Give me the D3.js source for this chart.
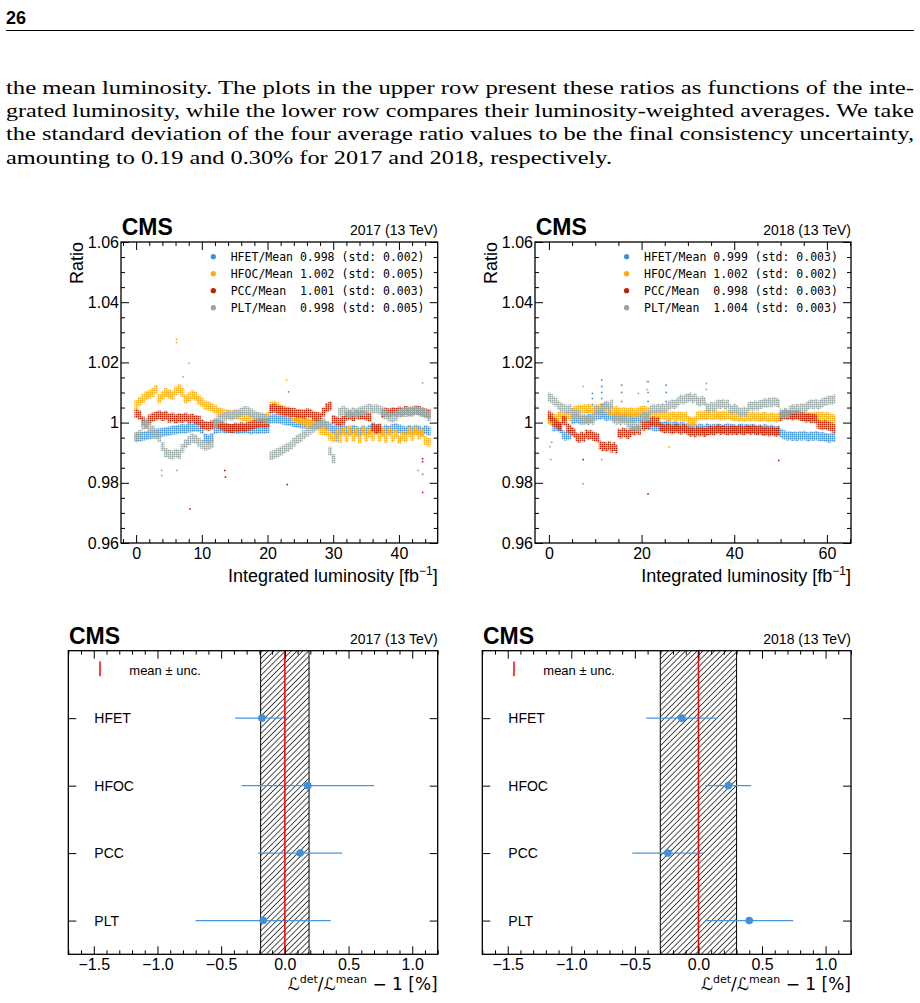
<!DOCTYPE html>
<html>
<head>
<meta charset="utf-8">
<script src="https://cdn.jsdelivr.net/npm/d3@7"></script>
<style>
  body { margin: 0; background: #fff; }
  svg text { font-family: "Liberation Sans", Arial, sans-serif; }
</style>
</head>
<body>
<div id="container"></div>
<script>
/***** data *****/
const pageNumber = "26";
const paragraph = [
  "the mean luminosity. The plots in the upper row present these ratios as functions of the inte-",
  "grated luminosity, while the lower row compares their luminosity-weighted averages. We take",
  "the standard deviation of the four average ratio values to be the final consistency uncertainty,",
  "amounting to 0.19 and 0.30% for 2017 and 2018, respectively."
];

const detectors = ["HFET", "HFOC", "PCC", "PLT"];
const colors = ["#3f90da", "#ffa90e", "#bd1f01", "#94a4a2"];
const lumiStep = 0.5;   // fb^-1 between stored ratio samples

const mean2017 = ["0.998", "1.002", "1.001", "0.998"];
const std2017  = ["0.002", "0.005", "0.003", "0.005"];
const mean2018 = ["0.999", "1.002", "0.998", "1.004"];
const std2018  = ["0.003", "0.002", "0.003", "0.003"];

const hfet2017 = [
  0.9950,0.9952,0.9955,0.9957,0.9960,0.9962,0.9965,0.9966,0.9968,0.9970,
  0.9972,0.9975,0.9976,0.9978,0.9980,0.9979,0.9982,0.9983,0.9985,0.9984,
  0.9978,0.9948,0.9945,0.9950,0.9978,0.9980,0.9982,0.9979,0.9981,0.9980,
  0.9978,0.9977,0.9979,0.9980,0.9978,0.9976,0.9978,0.9977,0.9979,0.9978,
  0.9980,1.0012,1.0013,1.0012,1.0010,1.0008,1.0005,1.0003,1.0000,0.9998,
  0.9996,0.9995,0.9996,0.9995,0.9994,0.9995,0.9993,0.9992,0.9990,0.9985,
  0.9978,0.9975,0.9972,0.9978,0.9974,0.9970,0.9977,0.9973,0.9969,0.9976,
  0.9972,0.9978,0.9982,0.9980,0.9976,0.9972,0.9978,0.9974,0.9980,0.9983,
  0.9979,0.9975,0.9972,0.9977,0.9973,0.9978,0.9974,0.9970,0.9976,0.9972];
const hfoc2017 = [
  1.0060,1.0070,1.0080,1.0090,1.0095,1.0100,1.0110,1.0080,1.0090,1.0100,
  1.0095,1.0090,1.0105,1.0112,1.0100,1.0078,1.0085,1.0092,1.0088,1.0075,
  1.0068,1.0058,1.0055,1.0050,1.0045,1.0035,1.0032,1.0030,1.0028,1.0026,
  1.0025,1.0024,1.0022,1.0020,1.0021,1.0019,1.0018,1.0017,1.0016,1.0015,
  1.0020,1.0055,1.0058,1.0052,1.0045,1.0042,1.0038,1.0035,1.0020,1.0012,
  1.0010,1.0008,1.0000,0.9995,0.9992,0.9990,0.9975,0.9972,0.9970,0.9955,
  0.9950,0.9962,0.9948,0.9970,0.9950,0.9975,0.9952,0.9968,0.9945,0.9972,
  0.9950,0.9965,0.9955,0.9975,0.9952,0.9968,0.9948,0.9970,0.9950,0.9962,
  0.9945,0.9955,0.9950,0.9968,0.9955,0.9972,0.9958,0.9965,0.9940,0.9935];
const pcc2017 = [
  1.0030,1.0025,1.0005,0.9995,1.0012,1.0018,1.0022,1.0025,1.0020,1.0024,
  1.0015,1.0018,1.0012,1.0016,1.0014,1.0018,1.0012,1.0015,1.0010,1.0008,
  0.9995,0.9990,0.9988,0.9992,0.9998,0.9995,0.9990,0.9985,0.9982,0.9980,
  0.9985,0.9983,0.9986,0.9984,0.9988,0.9990,0.9995,0.9998,1.0000,0.9998,
  1.0000,1.0045,1.0048,1.0042,1.0040,1.0036,1.0035,1.0033,1.0034,1.0030,
  1.0030,1.0028,1.0032,1.0030,1.0022,1.0020,1.0018,1.0035,1.0050,1.0055,
  1.0010,1.0005,1.0002,1.0008,1.0022,1.0025,1.0020,1.0028,1.0024,1.0026,
  1.0022,1.0018,0.9985,0.9978,0.9982,1.0030,1.0035,1.0032,1.0036,1.0034,
  1.0038,1.0035,1.0040,1.0036,1.0038,1.0042,1.0040,1.0036,1.0032,1.0030];
const plt2017 = [
  0.9955,0.9960,0.9990,1.0000,0.9985,0.9975,0.9960,0.9950,0.9920,0.9900,
  0.9895,0.9892,0.9898,0.9895,0.9915,0.9930,0.9940,0.9948,0.9945,0.9935,
  0.9928,0.9922,0.9925,0.9930,0.9995,1.0010,1.0015,1.0020,1.0025,1.0022,
  1.0028,1.0030,1.0035,1.0040,1.0038,1.0032,1.0025,1.0020,1.0018,1.0015,
  1.0010,0.9890,0.9895,0.9900,0.9905,0.9912,0.9918,0.9925,0.9935,0.9945,
  0.9950,0.9960,0.9968,0.9975,0.9982,0.9990,0.9995,1.0000,0.9990,0.9905,
  0.9880,0.9950,1.0035,1.0040,1.0035,1.0030,1.0036,1.0032,1.0038,1.0040,
  1.0045,1.0048,1.0044,1.0046,1.0042,1.0038,1.0025,1.0018,1.0015,1.0020,
  1.0030,1.0036,1.0034,1.0038,1.0035,1.0040,1.0036,1.0034,1.0030,1.0020];

const hfet2018 = [
  1.0010,1.0005,0.9985,0.9988,0.9985,0.9980,0.9960,0.9955,0.9958,0.9960,
  1.0010,1.0012,1.0014,1.0010,1.0008,1.0012,1.0010,1.0015,1.0012,1.0018,
  1.0022,1.0025,1.0024,1.0028,1.0022,1.0020,1.0024,1.0021,1.0018,1.0022,
  1.0020,1.0017,1.0015,1.0018,1.0014,1.0016,1.0013,1.0015,1.0018,1.0016,
  1.0015,1.0017,1.0014,1.0012,0.9990,0.9988,0.9985,0.9988,0.9990,0.9987,
  0.9990,0.9992,0.9988,0.9986,0.9990,0.9988,0.9985,0.9988,0.9986,0.9983,
  0.9982,0.9980,0.9984,0.9981,0.9978,0.9982,0.9980,0.9977,0.9983,0.9980,
  0.9978,0.9981,0.9979,0.9982,0.9980,0.9977,0.9980,0.9983,0.9979,0.9981,
  0.9979,0.9976,0.9980,0.9982,0.9978,0.9980,0.9977,0.9979,0.9981,0.9978,
  0.9976,0.9979,0.9977,0.9980,0.9978,0.9975,0.9978,0.9976,0.9973,0.9975,
  0.9965,0.9962,0.9958,0.9955,0.9957,0.9954,0.9956,0.9953,0.9957,0.9955,
  0.9958,0.9955,0.9952,0.9956,0.9954,0.9957,0.9955,0.9952,0.9954,0.9951,
  0.9950,0.9948,0.9952,0.9950];
const hfoc2018 = [
  1.0010,1.0008,1.0015,1.0012,1.0020,1.0022,1.0018,1.0021,1.0024,1.0020,
  1.0035,1.0040,1.0042,1.0045,1.0043,1.0046,1.0044,1.0047,1.0045,1.0042,
  1.0046,1.0044,1.0048,1.0050,1.0052,1.0049,1.0042,1.0040,1.0038,1.0041,
  1.0036,1.0034,1.0037,1.0035,1.0033,1.0036,1.0034,1.0032,1.0035,1.0038,
  1.0040,1.0042,1.0038,1.0036,1.0026,1.0024,1.0027,1.0025,1.0023,1.0026,
  1.0024,1.0022,1.0020,1.0023,1.0021,1.0019,1.0022,1.0020,1.0018,1.0021,
  1.0008,1.0005,1.0003,1.0006,1.0022,1.0025,1.0023,1.0026,1.0024,1.0027,
  1.0025,1.0023,1.0026,1.0024,1.0022,1.0025,1.0023,1.0026,1.0024,1.0021,
  1.0020,1.0022,1.0019,1.0021,1.0018,1.0020,1.0022,1.0019,1.0021,1.0018,
  1.0020,1.0017,1.0019,1.0021,1.0018,1.0016,1.0019,1.0017,1.0015,1.0018,
  1.0024,1.0026,1.0023,1.0025,1.0027,1.0024,1.0026,1.0023,1.0025,1.0022,
  1.0020,1.0022,1.0019,1.0021,1.0018,1.0020,1.0022,1.0019,1.0021,1.0018,
  1.0020,1.0017,1.0015,1.0012];
const pcc2018 = [
  1.0025,1.0018,1.0002,0.9998,0.9990,0.9988,1.0008,1.0005,0.9982,0.9978,
  0.9970,0.9965,0.9952,0.9948,0.9955,0.9950,0.9962,0.9958,0.9960,0.9955,
  0.9952,0.9950,0.9925,0.9920,0.9922,0.9918,0.9924,0.9915,0.9920,0.9912,
  0.9965,0.9962,0.9968,0.9965,0.9960,0.9966,0.9975,0.9972,0.9978,0.9974,
  0.9990,0.9988,0.9992,0.9990,1.0002,1.0005,1.0000,1.0003,0.9985,0.9982,
  0.9978,0.9982,0.9980,0.9976,0.9979,0.9982,0.9978,0.9975,0.9980,0.9977,
  0.9972,0.9968,0.9970,0.9966,0.9972,0.9969,0.9971,0.9967,0.9970,0.9973,
  0.9975,0.9972,0.9976,0.9978,0.9974,0.9977,0.9975,0.9972,0.9976,0.9974,
  0.9976,0.9973,0.9977,0.9975,0.9972,0.9976,0.9978,0.9974,0.9977,0.9975,
  0.9973,0.9976,0.9972,0.9970,0.9973,0.9969,0.9972,0.9970,0.9968,0.9971,
  1.0020,1.0025,1.0028,1.0024,1.0026,1.0022,1.0025,1.0028,1.0023,1.0020,
  1.0018,1.0015,1.0017,1.0013,1.0015,1.0012,0.9995,0.9992,0.9990,0.9993,
  0.9990,0.9988,0.9985,0.9980];
const plt2018 = [
  1.0085,1.0080,1.0072,1.0068,1.0058,1.0052,1.0048,1.0045,1.0042,1.0046,
  1.0032,1.0028,1.0030,1.0026,1.0012,1.0008,1.0010,1.0005,1.0012,1.0008,
  1.0040,1.0042,1.0038,1.0045,1.0055,1.0058,1.0052,1.0062,1.0012,1.0008,
  1.0010,1.0006,1.0012,1.0008,0.9995,0.9990,0.9988,0.9992,0.9986,0.9990,
  1.0018,1.0022,1.0020,1.0025,1.0042,1.0046,1.0044,1.0048,1.0045,1.0050,
  1.0046,1.0052,1.0058,1.0062,1.0060,1.0065,1.0072,1.0078,1.0075,1.0080,
  1.0082,1.0085,1.0078,1.0083,1.0072,1.0068,1.0074,1.0070,1.0052,1.0048,
  1.0055,1.0050,1.0058,1.0062,1.0060,1.0064,1.0058,1.0062,1.0046,1.0042,
  1.0048,1.0044,1.0036,1.0034,1.0038,1.0035,1.0052,1.0056,1.0054,1.0058,
  1.0055,1.0060,1.0062,1.0066,1.0064,1.0068,1.0066,1.0070,1.0068,1.0064,
  1.0032,1.0028,1.0034,1.0030,1.0042,1.0046,1.0044,1.0048,1.0045,1.0050,
  1.0047,1.0052,1.0058,1.0062,1.0060,1.0064,1.0058,1.0062,1.0066,1.0070,
  1.0072,1.0076,1.0074,1.0078];

// isolated points: [detector index, lumi, ratio]
const outliers2017 = [
  [1, 6.15, 1.0277], [1, 6.15, 1.0266], [1, 8.05, 1.0197], [1, 7.15, 1.0152], [1, 22.9, 1.0141],
  [0, 23.2, 1.0102], [0, 43.6, 0.9828],
  [2, 8.2, 0.9713], [2, 13.5, 0.9841], [2, 13.6, 0.9819], [2, 23.0, 0.9794],
  [2, 43.6, 0.9880], [2, 43.6, 0.9870], [2, 43.6, 0.9768],
  [3, 3.9, 0.9841], [3, 3.9, 0.9824], [3, 6.2, 0.9841], [3, 43.6, 1.0132], [3, 42.9, 0.9841]];
const outliers2018 = [
  [0, 9.4, 1.0060], [0, 9.4, 1.0080], [0, 9.4, 1.0097],
  [0, 11.4, 1.0060], [0, 11.4, 1.0080], [0, 11.4, 1.0100], [0, 11.4, 1.0120], [0, 11.4, 1.0141],
  [0, 15.7, 1.0070], [0, 15.7, 1.0100], [0, 15.7, 1.0124],
  [0, 21.4, 1.0070], [0, 21.4, 1.0100], [0, 21.4, 1.0136],
  [0, 25.3, 1.0070], [0, 25.3, 1.0100], [0, 25.3, 1.0124],
  [1, 7.4, 1.0120], [1, 21.2, 1.0136], [1, 21.2, 1.0110], [1, 25.9, 0.9919],
  [2, 7.4, 0.9877], [2, 21.4, 0.9763], [2, 49.6, 0.9874],
  [3, 0.4, 0.9877], [3, 0.2, 0.9920], [3, 0.6, 0.9935], [3, 7.4, 0.9797], [3, 11.4, 0.9877],
  [3, 19.3, 1.0097], [3, 34.0, 1.0130], [3, 34.0, 1.0110]];

// luminosity-weighted averages, L_det/L_mean - 1 [%]
const avg2017 = [-0.18, 0.18, 0.12, -0.17];
const avgErr2017 = [0.21, 0.52, 0.33, 0.53];
const unc2017 = 0.19;
const avg2018 = [-0.13, 0.235, -0.24, 0.40];
const avgErr2018 = [0.28, 0.18, 0.28, 0.345];
const unc2018 = 0.30;

const ratioTicks = [0.96, 0.98, 1.00, 1.02, 1.04, 1.06];
const lumiTicks2017 = [0, 10, 20, 30, 40];
const lumiTicks2018 = [0, 20, 40, 60];
const avgTicks = [-1.5, -1.0, -0.5, 0.0, 0.5, 1.0];

/***** page *****/
const svg = d3.select("#container").append("svg")
  .attr("width", 920).attr("height", 1003)
  .style("background", "#fff");
const defs = svg.append("defs");

colors.forEach((c, i) => {
  const p = defs.append("pattern").attr("id", "dots" + i)
    .attr("patternUnits", "userSpaceOnUse").attr("width", 2).attr("height", 2);
  p.append("rect").attr("width", 1.5).attr("height", 1.5).attr("fill", c);
});
defs.append("pattern").attr("id", "hatch")
  .attr("patternUnits", "userSpaceOnUse").attr("width", 4.1).attr("height", 4.1)
  .attr("patternTransform", "rotate(45)")
  .append("line").attr("x1", 2).attr("x2", 2).attr("y1", 0).attr("y2", 4.1)
  .attr("stroke", "#111").attr("stroke-width", 0.75);

svg.append("text").attr("x", 6).attr("y", 24)
  .attr("font-size", 18).attr("font-weight", "bold").text(pageNumber);
svg.append("line").attr("x1", 6).attr("x2", 914).attr("y1", 30.5).attr("y2", 30.5)
  .attr("stroke", "#000").attr("stroke-width", 1);

const paraBase = [94, 117, 140, 164];
paragraph.forEach((t, i) => {
  svg.append("text")
    .attr("x", 6).attr("y", paraBase[i])
    .attr("textLength", i < 3 ? 908 : 606)
    .attr("lengthAdjust", "spacingAndGlyphs")
    .style("font-family", "'Liberation Serif', serif")
    .attr("font-size", 19.5)
    .text(t);
});

/***** helpers *****/
function axis(g, fn, scale, values, size, tr, fmt, pad) {
  const ax = fn(scale).tickValues(values).tickSizeInner(-size).tickSizeOuter(0)
    .tickPadding(pad || 3).tickFormat(fmt || (() => ""));
  const a = g.append("g").attr("transform", tr).call(ax);
  a.select(".domain").remove();
  a.selectAll("line").attr("stroke", "#000").attr("stroke-width", 1);
  a.attr("font-size", 16).attr("font-family", "'Liberation Sans', Arial, sans-serif");
  a.selectAll("text").attr("fill", "#000");
  return a;
}

function header(g, p, year) {
  g.append("text").attr("x", p.left + 0.7).attr("y", p.top - 7)
    .attr("font-size", 23).attr("font-weight", "bold").text("CMS");
  g.append("text").attr("x", p.right).attr("y", p.top - 7)
    .attr("text-anchor", "end").attr("font-size", 14).text(year + " (13 TeV)");
}

/***** upper row: ratio vs integrated luminosity *****/
function ratioPanel(p) {
  const x = d3.scaleLinear().domain(p.xDomain).range([p.left, p.right]);
  const y = d3.scaleLinear().domain([0.96, 1.06]).range([p.bottom, p.top]);
  const g = svg.append("g");

  defs.append("clipPath").attr("id", "clip" + p.year).append("rect")
    .attr("x", p.left).attr("y", p.top)
    .attr("width", p.right - p.left).attr("height", p.bottom - p.top);
  const plot = g.append("g").attr("clip-path", `url(#clip${p.year})`);

  const w = x(lumiStep) - x(0);
  p.series.forEach((vals, s) => {
    plot.append("g").selectAll("rect").data(vals).join("rect")
      .attr("x", (d, i) => x(i * lumiStep) - w / 2)
      .attr("width", w + 0.5)
      .attr("y", d => y(d) - 4.5)
      .attr("height", 9)
      .attr("fill", `url(#dots${s})`);
  });
  plot.append("g").selectAll("rect").data(p.outliers).join("rect")
    .attr("x", d => x(d[1]) - 0.8).attr("y", d => y(d[2]) - 0.8)
    .attr("width", 1.6).attr("height", 1.6)
    .attr("fill", d => colors[d[0]]);

  g.append("rect").attr("x", p.left).attr("y", p.top)
    .attr("width", p.right - p.left).attr("height", p.bottom - p.top)
    .attr("fill", "none").attr("stroke", "#000").attr("stroke-width", 1.3);

  const xMinor = d3.range(p.minorStep * Math.ceil(p.xDomain[0] / p.minorStep), p.xDomain[1], p.minorStep)
    .filter(v => !p.xTicks.includes(v));
  const yMinor = d3.range(0.965, 1.06, 0.005).filter(v => Math.round(v * 1000) % 20 !== 0);
  const yFmt = d => d === 1 ? "1" : d3.format(".2f")(d);

  axis(g, d3.axisBottom, x, p.xTicks, 8, `translate(0,${p.bottom})`, d3.format("d"), 4.5);
  axis(g, d3.axisBottom, x, xMinor, 4, `translate(0,${p.bottom})`);
  axis(g, d3.axisTop, x, p.xTicks, 8, `translate(0,${p.top})`);
  axis(g, d3.axisTop, x, xMinor, 4, `translate(0,${p.top})`);
  axis(g, d3.axisLeft, y, ratioTicks, 8, `translate(${p.left},0)`, yFmt, 2);
  axis(g, d3.axisLeft, y, yMinor, 4, `translate(${p.left},0)`);
  axis(g, d3.axisRight, y, ratioTicks, 8, `translate(${p.right},0)`);
  axis(g, d3.axisRight, y, yMinor, 4, `translate(${p.right},0)`);

  header(g, p, p.year);

  g.append("text")
    .attr("transform", `translate(${p.left - 38},${p.top}) rotate(-90)`)
    .attr("text-anchor", "end").attr("font-size", 18).text("Ratio");

  const xl = g.append("text").attr("x", p.right).attr("y", p.bottom + 38.5)
    .attr("text-anchor", "end").attr("font-size", 18);
  xl.append("tspan").text("Integrated luminosity [fb");
  xl.append("tspan").attr("font-size", 12).attr("dy", -7).text("\u22121");
  xl.append("tspan").attr("dy", 7).text("]");

  // legend
  const leg = g.append("g");
  detectors.forEach((d, i) => {
    const cy = p.top + 14.7 + 17 * i;
    leg.append("circle").attr("cx", p.right - 224.4).attr("cy", cy).attr("r", 2.6)
      .attr("fill", colors[i]);
    const label = (d + "/Mean").padEnd(10, " ") + p.means[i] + " (std: " + p.stds[i] + ")";
    leg.append("text").attr("x", p.right - 207).attr("y", cy + 4)
      .style("font-family", "'DejaVu Sans Mono', monospace")
      .style("white-space", "pre")
      .attr("font-size", 11.5).text(label);
  });
}

ratioPanel({
  year: 2017, left: 121, right: 437.7, top: 242, bottom: 543,
  xDomain: [-2.3, 45.9], xTicks: lumiTicks2017, minorStep: 2,
  series: [hfet2017, hfoc2017, pcc2017, plt2017], outliers: outliers2017,
  means: mean2017, stds: std2017
});
ratioPanel({
  year: 2018, left: 535, right: 851, top: 242, bottom: 543,
  xDomain: [-3.0, 65.2], xTicks: lumiTicks2018, minorStep: 5,
  series: [hfet2018, hfoc2018, pcc2018, plt2018], outliers: outliers2018,
  means: mean2018, stds: std2018
});

/***** lower row: luminosity-weighted averages *****/
function averagePanel(p) {
  const x = d3.scaleLinear().domain([-1.7, 1.2]).range([p.left, p.right]);
  const y = d3.scaleLinear().domain([0, 4.5]).range([p.top, p.bottom]);
  const g = svg.append("g");

  // uncertainty band
  g.append("rect").attr("x", x(-p.unc)).attr("y", p.top)
    .attr("width", x(p.unc) - x(-p.unc)).attr("height", p.bottom - p.top)
    .attr("fill", "url(#hatch)");
  [-p.unc, p.unc].forEach(v => {
    g.append("line").attr("x1", x(v)).attr("x2", x(v)).attr("y1", p.top).attr("y2", p.bottom)
      .attr("stroke", "#000").attr("stroke-width", 1);
  });

  // error bars
  g.append("g").selectAll("line").data(p.avg).join("line")
    .attr("x1", (d, i) => x(d - p.err[i])).attr("x2", (d, i) => x(d + p.err[i]))
    .attr("y1", (d, i) => y(i + 1)).attr("y2", (d, i) => y(i + 1))
    .attr("stroke", "#4a96dd").attr("stroke-width", 1.3);

  g.append("line").attr("x1", x(0)).attr("x2", x(0)).attr("y1", p.top).attr("y2", p.bottom)
    .attr("stroke", "#ff0000").attr("stroke-width", 1.5);

  g.append("g").selectAll("circle").data(p.avg).join("circle")
    .attr("cx", d => x(d)).attr("cy", (d, i) => y(i + 1)).attr("r", 3.8)
    .attr("fill", colors[0]);

  g.append("rect").attr("x", p.left).attr("y", p.top)
    .attr("width", p.right - p.left).attr("height", p.bottom - p.top)
    .attr("fill", "none").attr("stroke", "#000").attr("stroke-width", 1.3);

  const xMinor = d3.range(-1.7, 1.25, 0.1).map(v => Math.round(v * 10) / 10)
    .filter(v => Math.round(v * 10) % 5 !== 0);
  const cats = [1, 2, 3, 4];
  axis(g, d3.axisBottom, x, avgTicks, 8, `translate(0,${p.bottom})`, d3.format(".1f"), 4.3);
  axis(g, d3.axisBottom, x, xMinor, 4, `translate(0,${p.bottom})`);
  axis(g, d3.axisTop, x, avgTicks, 8, `translate(0,${p.top})`);
  axis(g, d3.axisTop, x, xMinor, 4, `translate(0,${p.top})`);
  axis(g, d3.axisLeft, y, cats, 8, `translate(${p.left},0)`);
  axis(g, d3.axisRight, y, cats, 8, `translate(${p.right},0)`);

  detectors.forEach((d, i) => {
    g.append("text").attr("x", p.left + 26).attr("y", y(i + 1) + 5)
      .attr("font-size", 14).text(d);
  });

  // legend
  g.append("line").attr("x1", p.left + 31.7).attr("x2", p.left + 31.7)
    .attr("y1", y(0.16)).attr("y2", y(0.38))
    .attr("stroke", "#ff0000").attr("stroke-width", 1.5);
  g.append("text").attr("x", p.left + 61).attr("y", y(0.3) + 4.5)
    .attr("font-size", 13).text("mean \u00b1 unc.");

  header(g, p, p.year);

  const xl = g.append("text").attr("x", p.right).attr("y", p.bottom + 36)
    .attr("text-anchor", "end").attr("font-size", 17)
    .style("font-family", "'DejaVu Sans', sans-serif");
  xl.append("tspan").attr("font-style", "italic").text("\u2112");
  xl.append("tspan").attr("font-size", 11).attr("dy", -7).text("det");
  xl.append("tspan").attr("dy", 7).text("/");
  xl.append("tspan").attr("font-style", "italic").text("\u2112");
  xl.append("tspan").attr("font-size", 11).attr("dy", -7).text("mean");
  xl.append("tspan").attr("dy", 7).text(" \u2212 1 [%]");
}

averagePanel({ year: 2017, left: 68.3, right: 437.7, top: 650.7, bottom: 954.3,
  avg: avg2017, err: avgErr2017, unc: unc2017 });
averagePanel({ year: 2018, left: 482.3, right: 851, top: 650.7, bottom: 954.3,
  avg: avg2018, err: avgErr2018, unc: unc2018 });
</script>
</body>
</html>
